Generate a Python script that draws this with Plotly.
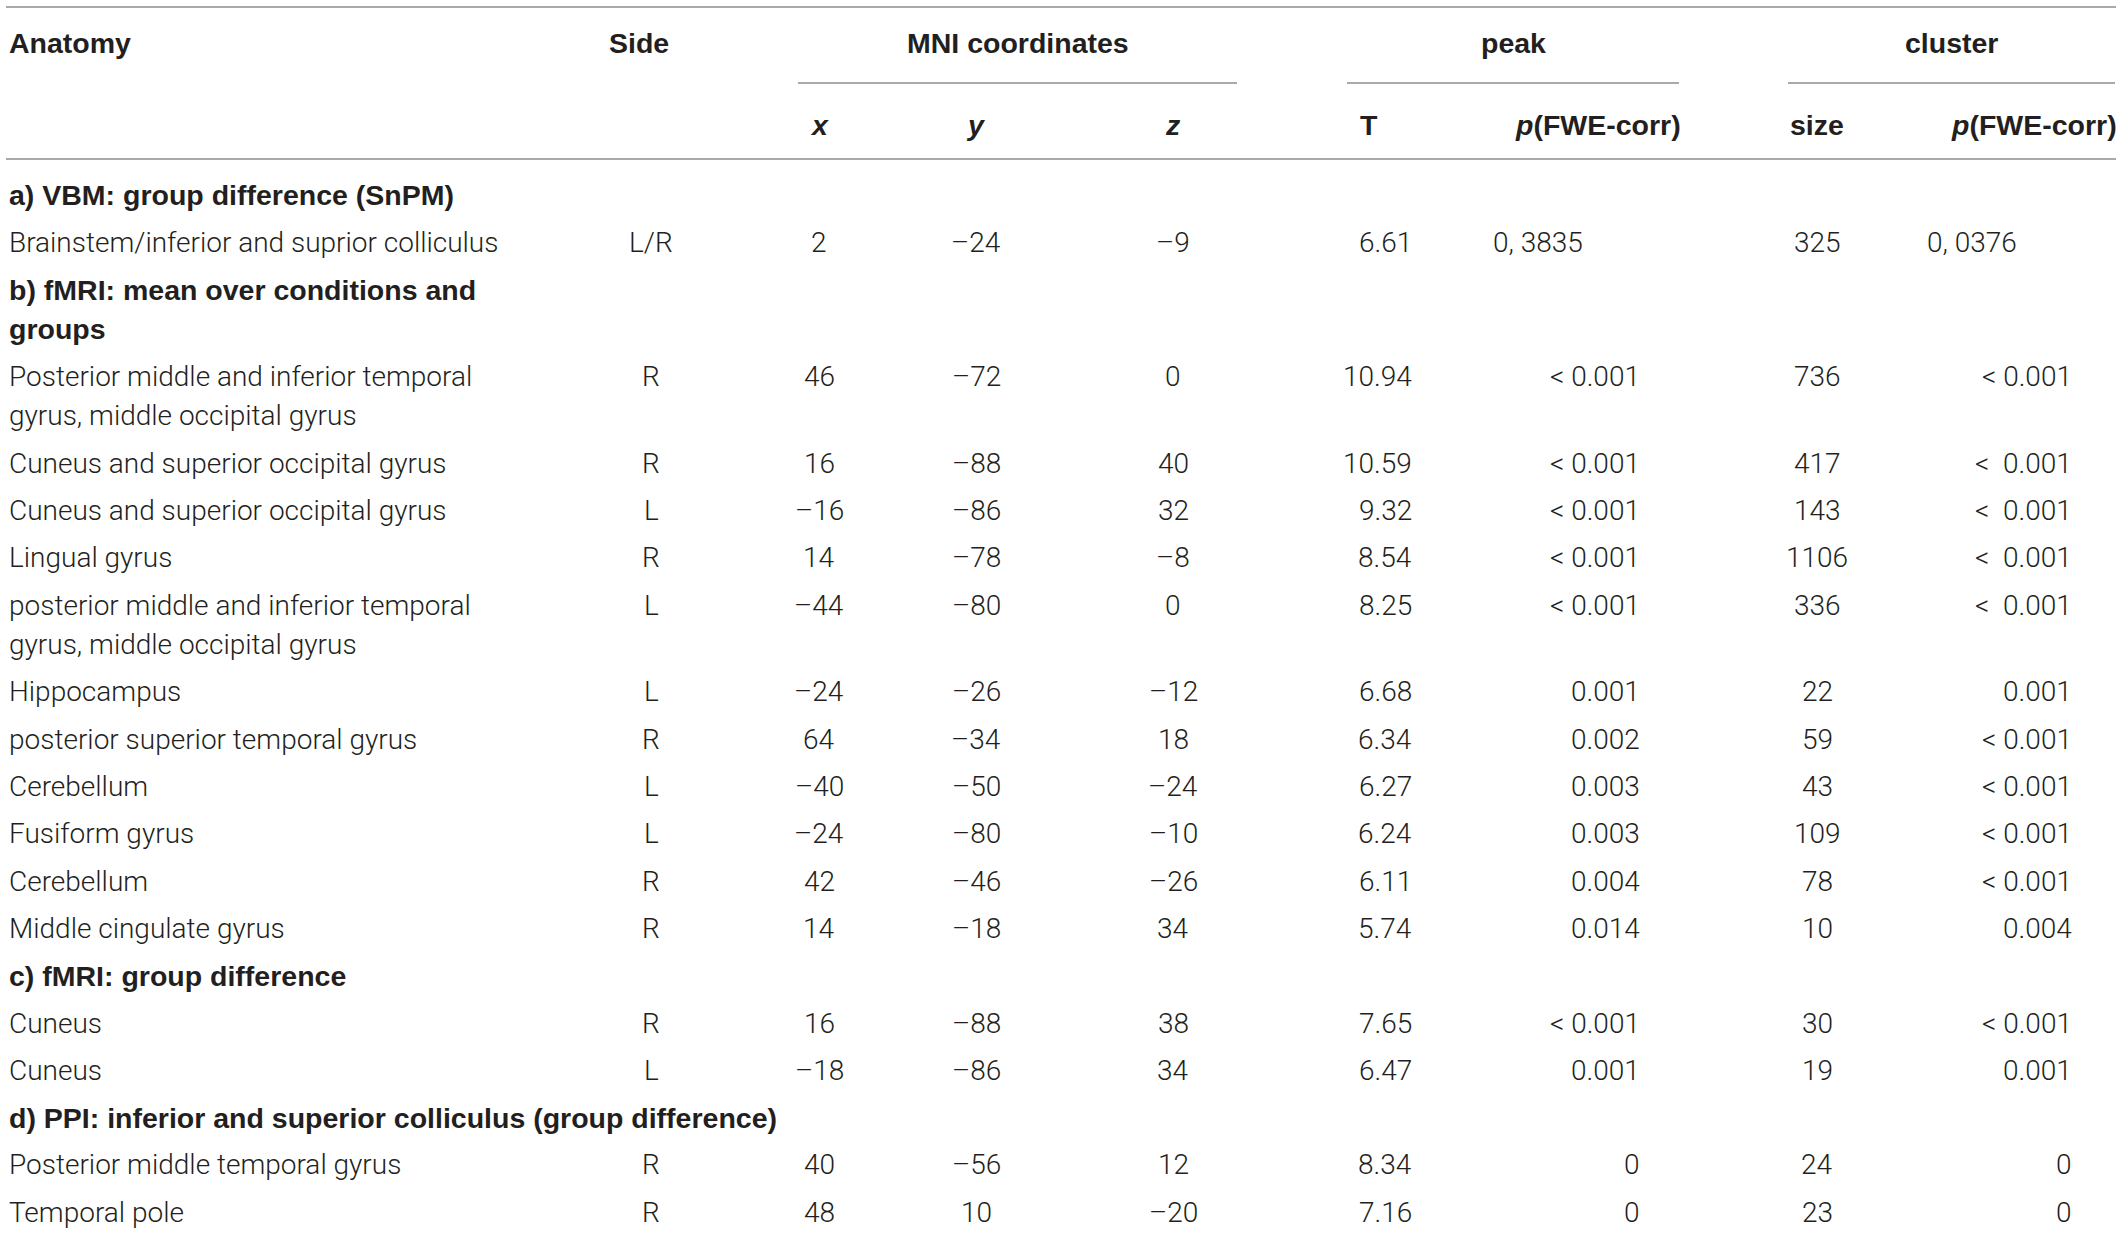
import plotly.graph_objects as go

W, H = 2123, 1233

# ---------------- data ----------------
header_groups = ["MNI coordinates", "peak", "cluster"]
header_cols = ["Anatomy", "Side", "x", "y", "z", "T", "p(FWE-corr)", "size", "p(FWE-corr)"]

sections = [
    "a) VBM: group difference (SnPM)",
    "b) fMRI: mean over conditions and\ngroups",
    "c) fMRI: group difference",
    "d) PPI: inferior and superior colliculus (group difference)",
]
section_start = [0, 1, 12, 14]

anatomy = [
    "Brainstem/inferior and suprior colliculus",
    "Posterior middle and inferior temporal\ngyrus, middle occipital gyrus",
    "Cuneus and superior occipital gyrus",
    "Cuneus and superior occipital gyrus",
    "Lingual gyrus",
    "posterior middle and inferior temporal\ngyrus, middle occipital gyrus",
    "Hippocampus",
    "posterior superior temporal gyrus",
    "Cerebellum",
    "Fusiform gyrus",
    "Cerebellum",
    "Middle cingulate gyrus",
    "Cuneus",
    "Cuneus",
    "Posterior middle temporal gyrus",
    "Temporal pole",
]
side = ["L/R", "R", "R", "L", "R", "L", "L", "R", "L", "L", "R", "R", "R", "L", "R", "R"]
mni_x = [2, 46, 16, -16, 14, -44, -24, 64, -40, -24, 42, 14, 16, -18, 40, 48]
mni_y = [-24, -72, -88, -86, -78, -80, -26, -34, -50, -80, -46, -18, -88, -86, -56, 10]
mni_z = [-9, 0, 40, 32, -8, 0, -12, 18, -24, -10, -26, 34, 38, 34, 12, -20]
peak_T = [6.61, 10.94, 10.59, 9.32, 8.54, 8.25, 6.68, 6.34, 6.27, 6.24, 6.11, 5.74, 7.65, 6.47, 8.34, 7.16]
peak_p = ["0, 3835", "< 0.001", "< 0.001", "< 0.001", "< 0.001", "< 0.001", "0.001", "0.002",
          "0.003", "0.003", "0.004", "0.014", "< 0.001", "0.001", "0", "0"]
cluster_size = [325, 736, 417, 143, 1106, 336, 22, 59, 43, 109, 78, 10, 30, 19, 24, 23]
cluster_p = ["0, 0376", "< 0.001", "<  0.001", "<  0.001", "<  0.001", "<  0.001", "0.001", "< 0.001",
             "< 0.001", "< 0.001", "< 0.001", "0.004", "< 0.001", "0.001", "0", "0"]

# ---------------- style ----------------
TXT = "#231f20"
RULE = "#a7a9ac"
BODY = dict(family="Roboto", size=28, color=TXT, weight=300)
BOLD = dict(family="Liberation Sans", size=28.5, color=TXT, weight="bold")

PITCH = 47.3
LINE = 39.5
Y0 = 195

fig = go.Figure()
fig.add_trace(go.Scatter(x=[0, W], y=[0, H], mode="markers", marker=dict(opacity=0), hoverinfo="skip",
                         showlegend=False))

ann = []


def txt(xv, yv, s, font, anchor):
    ann.append(dict(x=xv, y=yv, xref="x", yref="y", text=s, showarrow=False, font=font,
                    xanchor=anchor, yanchor="middle", align=anchor if anchor != "middle" else "center"))


def num(v):
    return str(v).replace("-", "\u2013")


# column positions (layout)
X_ANAT = 7
X_SIDE = 651
X_X, X_Y, X_Z = 819, 976, 1173
X_T = 1414
X_PP = 1642
X_PP_L = 1491
X_SIZE = 1817
X_CP = 2074
X_CP_L = 1925

# header
Y_H1, Y_H2 = 43, 125
txt(X_ANAT, Y_H1, "Anatomy", BOLD, "left")
txt(607, Y_H1, "Side", BOLD, "left")
txt(1018, Y_H1, header_groups[0], BOLD, "center")
txt(1513, Y_H1, header_groups[1], BOLD, "center")
txt(1951, Y_H1, header_groups[2], BOLD, "center")
txt(X_X, Y_H2, "<i>%s</i>" % header_cols[2], BOLD, "center")
txt(X_Y, Y_H2, "<i>%s</i>" % header_cols[3], BOLD, "center")
txt(X_Z, Y_H2, "<i>%s</i>" % header_cols[4], BOLD, "center")
txt(1358, Y_H2, header_cols[5], BOLD, "left")
txt(1683, Y_H2, "<i>p</i>" + header_cols[6][1:], BOLD, "right")
txt(X_SIZE, Y_H2, header_cols[7], BOLD, "center")
txt(2119, Y_H2, "<i>p</i>" + header_cols[8][1:], BOLD, "right")

# body
y = Y0
for i in range(len(anatomy)):
    if i in section_start:
        lines = sections[section_start.index(i)].split("\n")
        for k, l in enumerate(lines):
            txt(X_ANAT, y + k * LINE, l, BOLD, "left")
        y += (len(lines) - 1) * LINE + PITCH
    lines = anatomy[i].split("\n")
    for k, l in enumerate(lines):
        txt(X_ANAT, y + k * LINE, l, BODY, "left")
    txt(X_SIDE, y, side[i], BODY, "center")
    txt(X_X, y, num(mni_x[i]), BODY, "center")
    txt(X_Y, y, num(mni_y[i]), BODY, "center")
    txt(X_Z, y, num(mni_z[i]), BODY, "center")
    txt(X_T, y, "%.2f" % peak_T[i], BODY, "right")
    if "," in peak_p[i]:
        txt(X_PP_L, y, peak_p[i], BODY, "left")
    else:
        txt(X_PP, y, peak_p[i].replace(" ", "\u00a0"), BODY, "right")
    txt(X_SIZE, y, str(cluster_size[i]), BODY, "center")
    if "," in cluster_p[i]:
        txt(X_CP_L, y, cluster_p[i], BODY, "left")
    else:
        txt(X_CP, y, cluster_p[i].replace(" ", "\u00a0"), BODY, "right")
    y += (len(lines) - 1) * LINE + PITCH

shapes = []


def rule(x0, x1, yv):
    shapes.append(dict(type="line", xref="x", yref="y", x0=x0, x1=x1, y0=yv, y1=yv,
                       line=dict(color=RULE, width=2)))


rule(6, 2116, 7)
rule(798, 1237, 83)
rule(1347, 1679, 83)
rule(1788, 2115, 83)
rule(6, 2116, 159)

fig.update_layout(
    width=W, height=H, margin=dict(l=0, r=0, t=0, b=0),
    paper_bgcolor="white", plot_bgcolor="white",
    xaxis=dict(range=[0, W], visible=False, fixedrange=True),
    yaxis=dict(range=[H, 0], visible=False, fixedrange=True),
    annotations=ann, shapes=shapes, showlegend=False,
)
fig.write_html("out.html", config={"displayModeBar": False},
               post_script="document.body.style.margin='0';document.body.style.overflow='hidden';")
